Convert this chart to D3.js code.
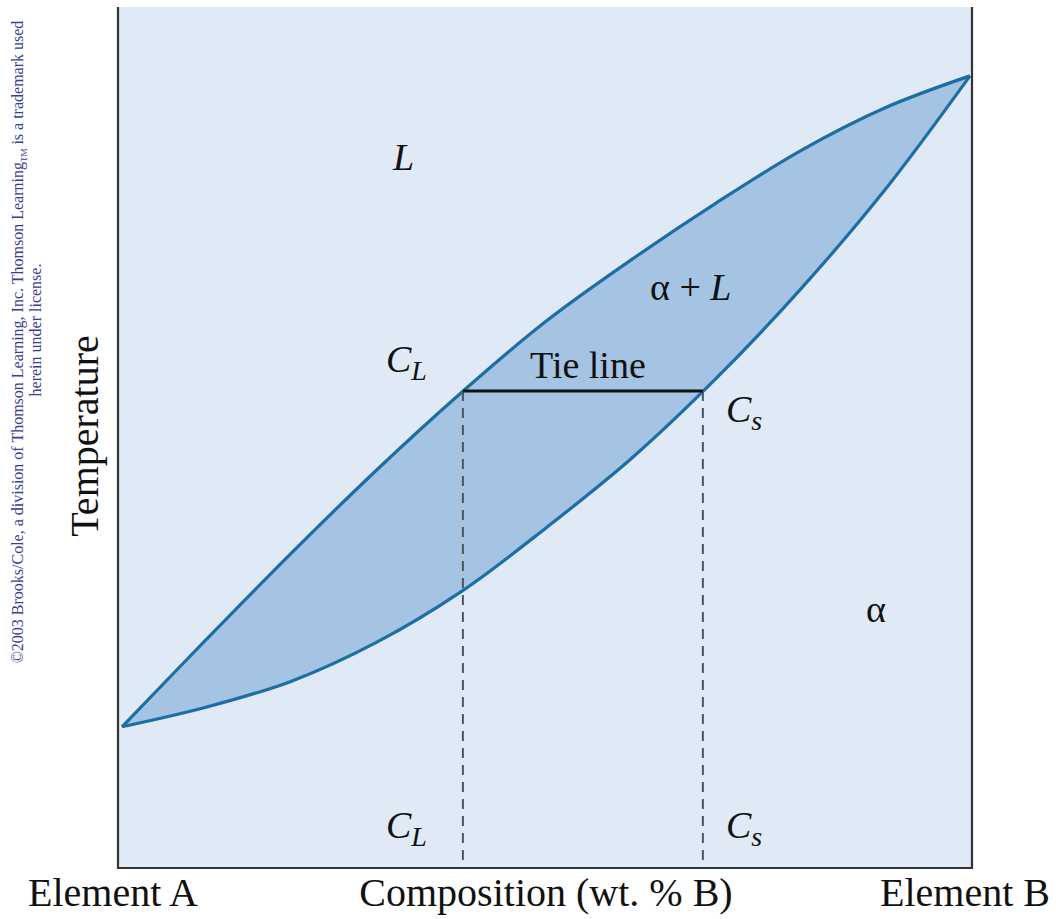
<!DOCTYPE html>
<head>
<meta charset="utf-8">
<script src="https://d3js.org/d3.v7.min.js"></script>
<style>
body { margin: 0; background: #fff; }
text { font-family: "Liberation Serif", "Times New Roman", Tinos, Times, "Noto Serif", "DejaVu Serif", serif; fill: #111; }
text.lbl { font-size: 38px; font-style: italic; }
text.axisLbl { font-size: 40px; }
text.copy { font-size: 16px; fill: #3b3c96; }
</style>
</head>
<body>
<script>
const width = 1056, height = 919;

// composition (wt.% B) and the two boundary temperatures (arbitrary units)
const composition = [0, 10, 20, 30, 40, 50, 60, 70, 80, 90, 100];
const liquidus    = [16.4, 26.6, 36.6, 46.2, 55.2, 63.5, 70.6, 77.2, 83.3, 88.3, 92.0];
const solidus     = [16.4, 18.7, 21.7, 26.2, 32.1, 39.5, 47.5, 56.8, 67.2, 78.8, 92.0];

// tie line
const tieT = 55.4;
const tieCL = 40.2, tieCS = 68.5;

const svg = d3.select("body").append("svg")
  .attr("width", width)
  .attr("height", height);

const frame = {left: 118, right: 972, top: 7, bottom: 868};

const x = d3.scaleLinear().domain([0, 100]).range([122, 970]);
const y = d3.scaleLinear().domain([0, 100]).range([frame.bottom, frame.top]);

const data = composition.map((c, i) => ({c: c, liq: liquidus[i], sol: solidus[i]}));
const curve = d3.curveCatmullRom.alpha(0.5);

// background
svg.append("rect")
  .attr("x", frame.left).attr("y", frame.top)
  .attr("width", frame.right - frame.left)
  .attr("height", frame.bottom - frame.top)
  .attr("fill", "#dfeaf6");

// two phase region
svg.append("path")
  .datum(data)
  .attr("fill", "#a5c3e2")
  .attr("d", d3.area()
    .curve(curve)
    .x(d => x(d.c))
    .y0(d => y(d.sol))
    .y1(d => y(d.liq)));

// dashed drops
[tieCL, tieCS].forEach(c => {
  svg.append("line")
    .attr("x1", x(c)).attr("x2", x(c))
    .attr("y1", y(tieT)).attr("y2", frame.bottom)
    .attr("stroke", "#4f555c")
    .attr("stroke-width", 2)
    .attr("stroke-dasharray", "10,7");
});

// liquidus + solidus
const line = d3.line().curve(curve).x(d => x(d.c));
["liq", "sol"].forEach(k => {
  svg.append("path")
    .datum(data)
    .attr("fill", "none")
    .attr("stroke", "#1c6ea4")
    .attr("stroke-width", 3.2)
    .attr("d", line.y(d => y(d[k])));
});

// tie line
svg.append("line")
  .attr("x1", x(tieCL)).attr("x2", x(tieCS))
  .attr("y1", y(tieT)).attr("y2", y(tieT))
  .attr("stroke", "#111")
  .attr("stroke-width", 3);

// frame (left, bottom, right)
svg.append("path")
  .attr("d", `M${frame.left},${frame.top}V${frame.bottom}H${frame.right}V${frame.top}`)
  .attr("fill", "none")
  .attr("stroke", "#333")
  .attr("stroke-width", 2.2);

// labels
svg.append("text").attr("class", "lbl").attr("x", 393).attr("y", 170).text("L");

svg.append("text").attr("class", "lbl").attr("x", 650).attr("y", 300)
  .style("font-style", "normal").text("α + ")
  .append("tspan").style("font-style", "italic").text("L");

svg.append("text").attr("x", 530).attr("y", 378)
  .style("font-size", "38px").text("Tie line");

function sub(xp, yp, main, s) {
  const t = svg.append("text").attr("class", "lbl").attr("x", xp).attr("y", yp).text(main);
  t.append("tspan").attr("dy", 8).style("font-size", "28px").text(s);
}
sub(386, 372, "C", "L");
sub(726, 422, "C", "s");
sub(386, 838, "C", "L");
sub(726, 838, "C", "s");

svg.append("text").attr("x", 866).attr("y", 622)
  .style("font-size", "38px").text("α");

// axis titles
svg.append("text").attr("class", "axisLbl")
  .attr("x", 28).attr("y", 906).text("Element A");
svg.append("text").attr("class", "axisLbl")
  .attr("x", (352 + 740) / 2).attr("y", 906)
  .style("text-anchor", "middle").text("Composition (wt. % B)");
svg.append("text").attr("class", "axisLbl")
  .attr("x", 1050).attr("y", 906)
  .style("text-anchor", "end").text("Element B");
svg.append("text").attr("class", "axisLbl")
  .attr("transform", "translate(98,436) rotate(-90)")
  .style("text-anchor", "middle").text("Temperature");

// copyright notice
const copy = svg.append("text").attr("class", "copy")
  .attr("transform", "translate(23,342) rotate(-90)")
  .style("text-anchor", "middle");
copy.append("tspan").text("©2003 Brooks/Cole, a division of Thomson Learning, Inc.  Thomson Learning");
copy.append("tspan").attr("dy", 4).style("font-size", "9px").text("TM");
copy.append("tspan").attr("dy", -4).text(" is a trademark used");
svg.append("text").attr("class", "copy")
  .attr("transform", "translate(41,330) rotate(-90)")
  .style("text-anchor", "middle")
  .text("herein under license.");
</script>
</body>
